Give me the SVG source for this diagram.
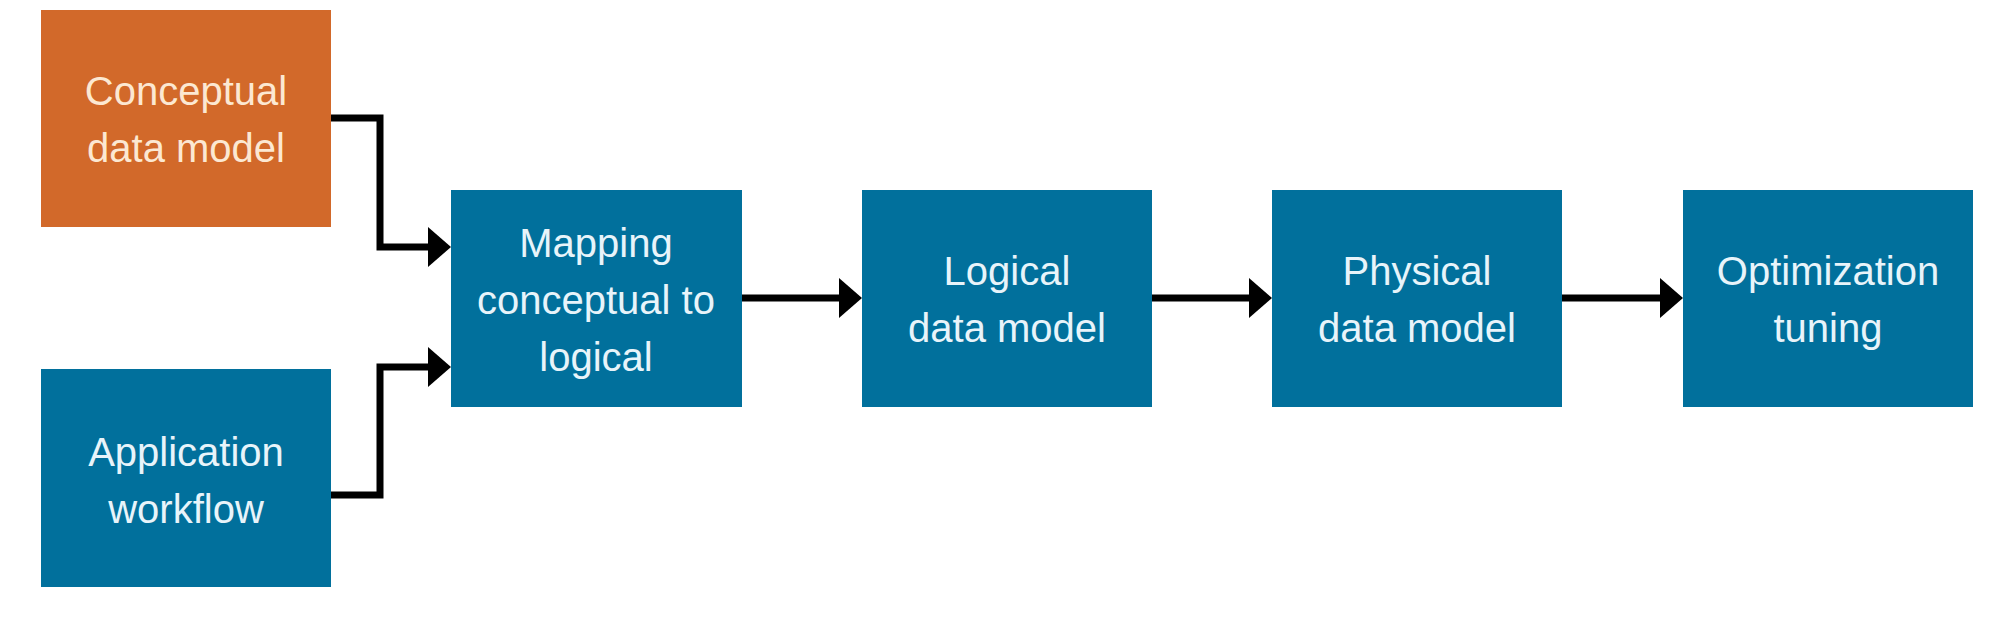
<svg xmlns="http://www.w3.org/2000/svg" width="1997" height="623" viewBox="0 0 1997 623">
<style>
.box{fill:#01709C}
.orange{fill:#D2692A}
.t{font-family:"Liberation Sans",Arial,sans-serif;font-size:40px;fill:#E8F4FA;text-anchor:middle}
.to{fill:#FCE8D2}
.c{fill:none;stroke:#000;stroke-width:7}
</style>
<defs>
<marker id="ah" markerUnits="userSpaceOnUse" markerWidth="24" markerHeight="40" refX="1" refY="20" orient="auto" overflow="visible">
<path d="M0,0 L23,20 L0,40 Z" fill="#000"/>
</marker>
</defs>
<rect width="1997" height="623" fill="#fff"/>
<g id="connectors">
<path class="c" d="M331,118 H380 V247 H429" marker-end="url(#ah)"/>
<path class="c" d="M331,495 H380 V367 H429" marker-end="url(#ah)"/>
<path class="c" d="M742,298 H840" marker-end="url(#ah)"/>
<path class="c" d="M1152,298 H1250" marker-end="url(#ah)"/>
<path class="c" d="M1562,298 H1661" marker-end="url(#ah)"/>
</g>
<g id="conceptual">
<rect class="orange" x="41" y="10" width="290" height="217"/>
<text class="t to" x="186" y="105">Conceptual</text>
<text class="t to" x="186" y="162">data model</text>
</g>
<g id="application">
<rect class="box" x="41" y="369" width="290" height="218"/>
<text class="t" x="186" y="466">Application</text>
<text class="t" x="186" y="523">workflow</text>
</g>
<g id="mapping">
<rect class="box" x="451" y="190" width="291" height="217"/>
<text class="t" x="596" y="257">Mapping</text>
<text class="t" x="596" y="314">conceptual to</text>
<text class="t" x="596" y="371">logical</text>
</g>
<g id="logical">
<rect class="box" x="862" y="190" width="290" height="217"/>
<text class="t" x="1007" y="285">Logical</text>
<text class="t" x="1007" y="342">data model</text>
</g>
<g id="physical">
<rect class="box" x="1272" y="190" width="290" height="217"/>
<text class="t" x="1417" y="285">Physical</text>
<text class="t" x="1417" y="342">data model</text>
</g>
<g id="optimization">
<rect class="box" x="1683" y="190" width="290" height="217"/>
<text class="t" x="1828" y="285">Optimization</text>
<text class="t" x="1828" y="342">tuning</text>
</g>
</svg>
